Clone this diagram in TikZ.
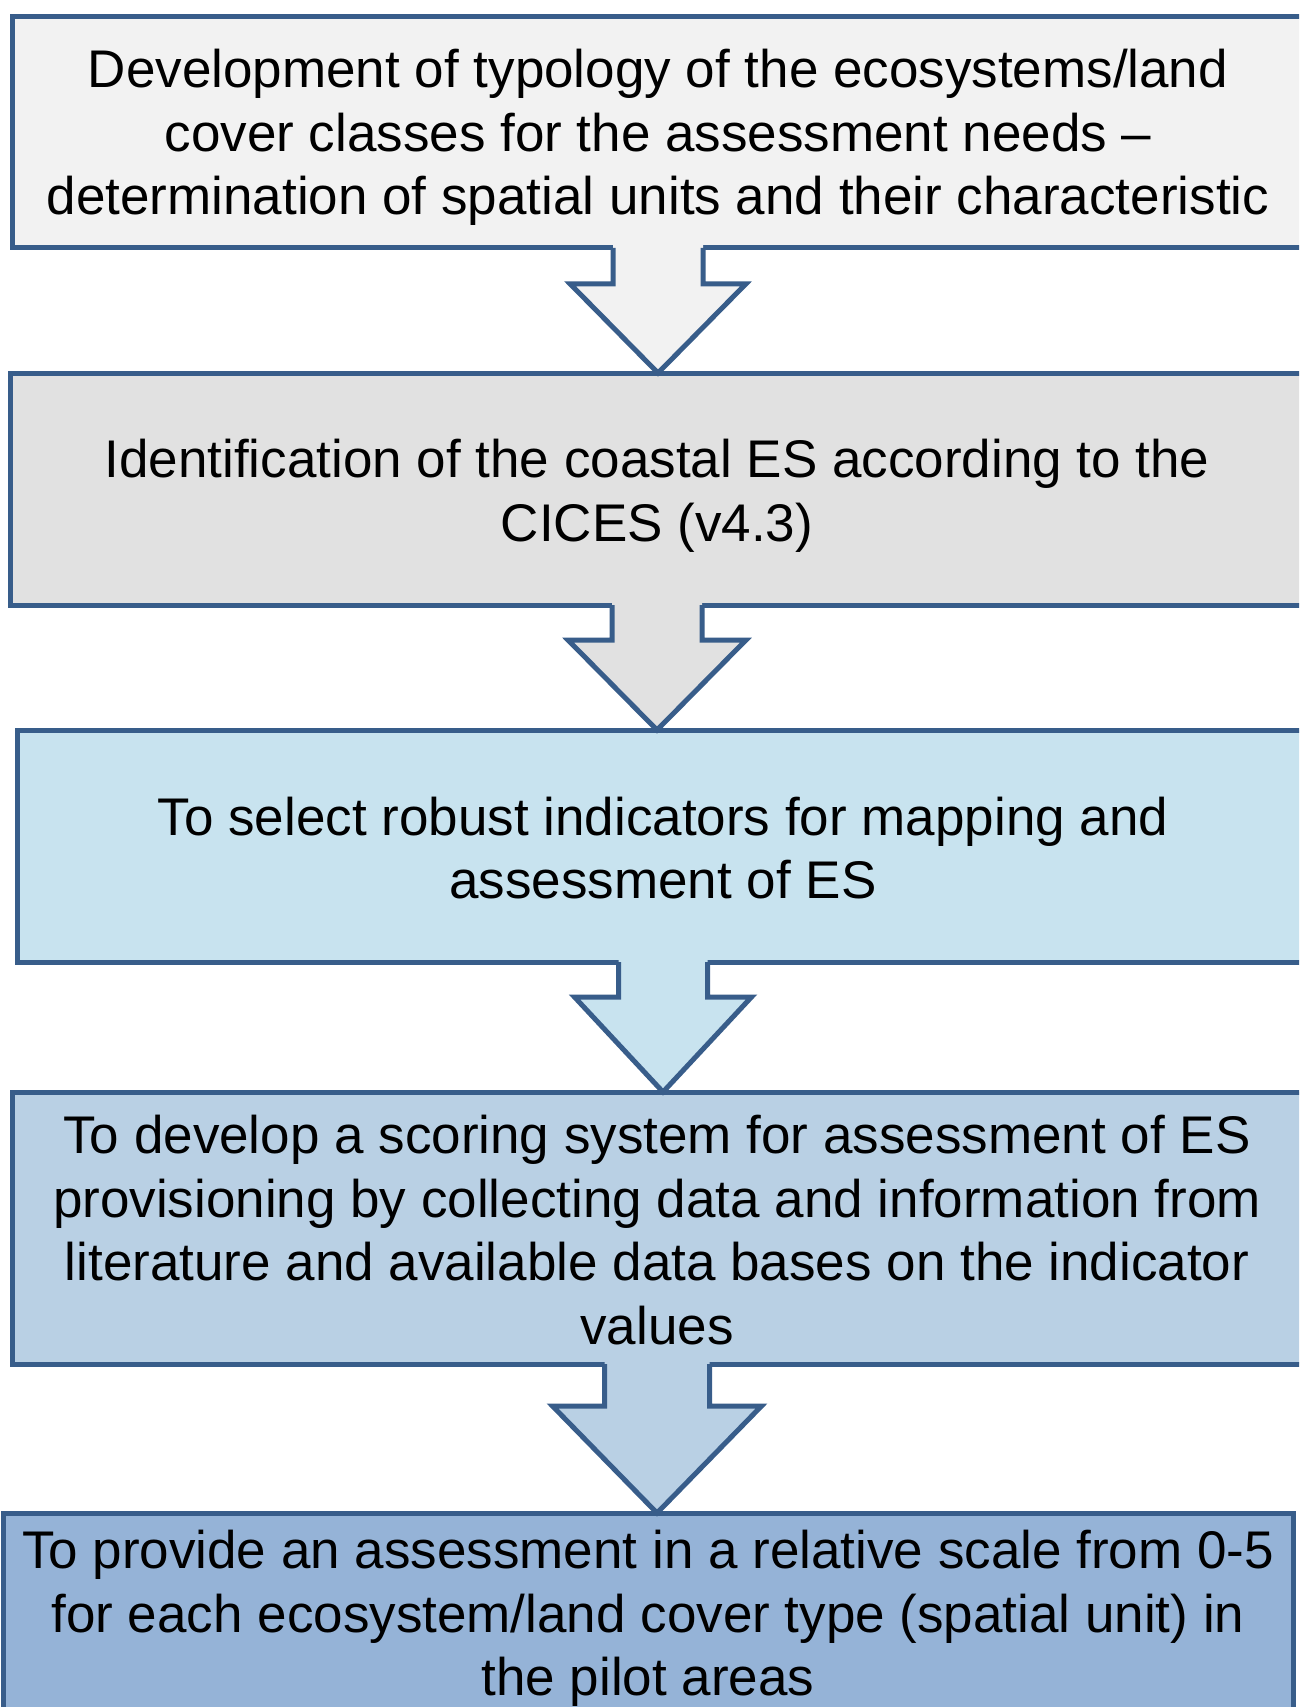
\documentclass[tikz,border=0pt]{standalone}
\usepackage{fontspec}
\setmainfont{Liberation Sans}
\usetikzlibrary{calc}
\definecolor{bordercol}{RGB}{56,93,138}
\definecolor{fillA}{RGB}{242,242,242}
\definecolor{fillB}{RGB}{225,225,225}
\definecolor{fillC}{RGB}{200,227,239}
\definecolor{fillD}{RGB}{185,208,228}
\definecolor{fillE}{RGB}{149,179,215}
\tikzset{
  stepbox/.style={draw=bordercol, line width=5pt, rectangle, inner sep=0pt, outer sep=0pt},
  steptext/.style={inner sep=0pt, align=center, font=\fontsize{53}{63.7}\selectfont, text=black},
  bordline/.style={draw=bordercol, line width=5pt, line join=miter},
}
\newcommand\blockarrow[6]{%
  \fill[#6] ($(#1.south)+(-#3,-3)$) -- ($(#1.south)+(-#3,#5)$) -- ($(#1.south)+(-#4,#5)$)
    -- (#1.south |- #2.north) -- ($(#1.south)+(#4,#5)$) -- ($(#1.south)+(#3,#5)$)
    -- ($(#1.south)+(#3,-3)$) -- cycle;
  \draw[bordline] ($(#1.south)+(-#3,0)$) -- ($(#1.south)+(-#3,#5)$) -- ($(#1.south)+(-#4,#5)$)
    -- (#1.south |- #2.north) -- ($(#1.south)+(#4,#5)$) -- ($(#1.south)+(#3,#5)$)
    -- ($(#1.south)+(#3,0)$);
}
\begin{document}
\begin{tikzpicture}[x=1pt, y=-1pt]
\useasboundingbox (0,0) rectangle (1299,1707);
\clip (0,0) rectangle (1299,1707);
\fill[white] (0,0) rectangle (1299,1707);

\node[stepbox, fill=fillA, minimum width=1291.5pt, minimum height=231.5pt] (b1) at (658,132) {};
\node[stepbox, fill=fillB, minimum width=1293pt, minimum height=232pt] (b2) at (657,489) {};
\node[stepbox, fill=fillC, minimum width=1292pt, minimum height=232pt] (b3) at (663,846) {};
\node[stepbox, fill=fillD, minimum width=1290pt, minimum height=272pt] (b4) at (657,1228) {};
\node[stepbox, fill=fillE, minimum width=1290pt, minimum height=200pt] (b5) at (648,1613) {};

\node[steptext] (t1) at ($(b1.center)+(0,5.5)$)
  {Development of typology of the ecosystems/land\\cover classes for the assessment needs --\\determination of spatial units and their characteristic};
\node[steptext] (t2) at ($(b2.center)+(0,6.5)$)
  {Identification of the coastal ES according to the\\CICES (v4.3)};
\node[steptext] (t3) at ($(b3.center)+(0,2)$)
  {To select robust indicators for mapping and\\assessment of ES};
\node[steptext] (t4) at ($(b4.center)+(0,2)$)
  {To develop a scoring system for assessment of ES\\provisioning by collecting data and information from\\literature and available data bases on the indicator\\values};
\node[steptext] (t5) at ($(b5.center)+(0,5.5)$)
  {To provide an assessment in a relative scale from 0-5\\for each ecosystem/land cover type (spatial unit) in\\the pilot areas};

\blockarrow{b1}{b2}{45}{88}{36}{fillA}
\blockarrow{b2}{b3}{45}{89}{35}{fillB}
\blockarrow{b3}{b4}{44.5}{88.5}{35}{fillC}
\blockarrow{b4}{b5}{52.5}{104.5}{42}{fillD}
\end{tikzpicture}
\end{document}
